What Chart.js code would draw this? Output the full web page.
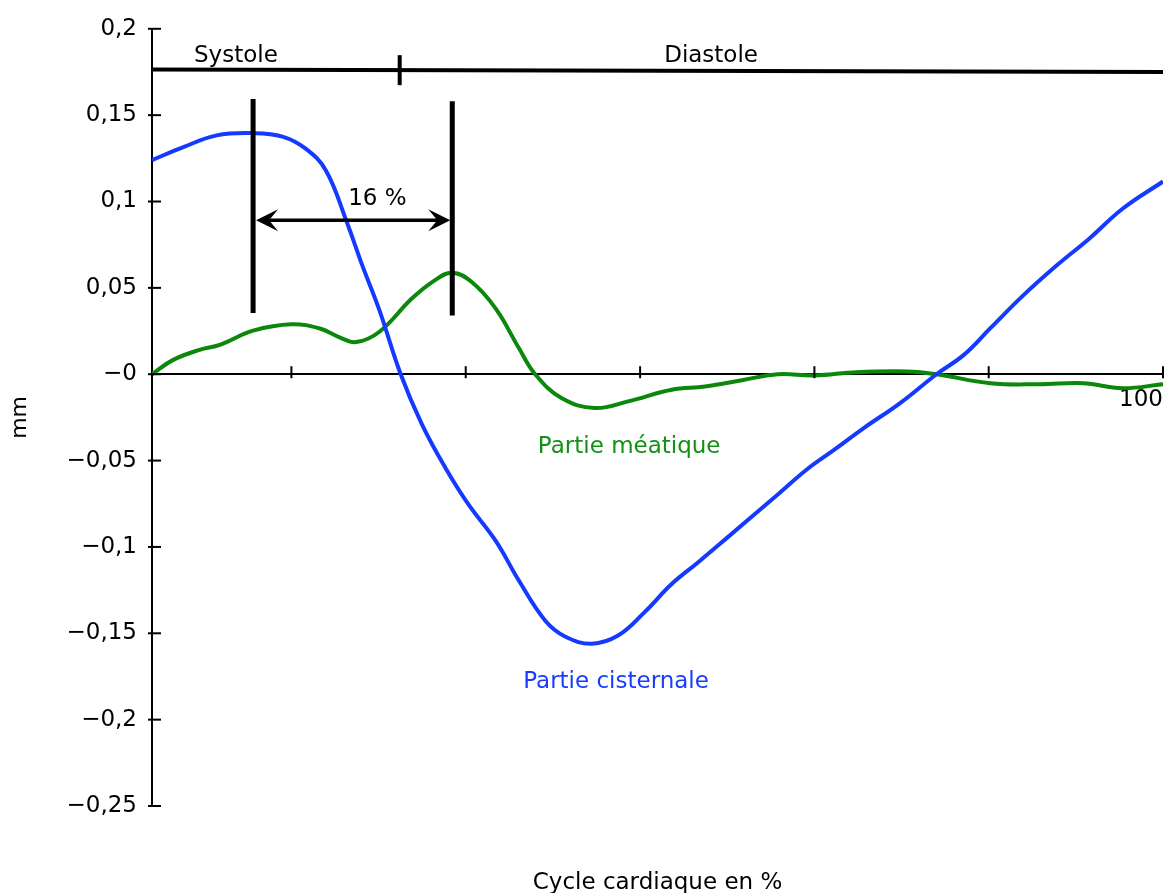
<!DOCTYPE html>
<html lang="fr">
<head>
<meta charset="utf-8">
<title>Cycle cardiaque</title>
<script src="https://cdn.jsdelivr.net/npm/chart.js"></script>
<style>
  html, body { margin: 0; padding: 0; background: #fff; }
  #wrap { width: 1175px; height: 893px; position: relative; }
</style>
</head>
<body>
<div id="wrap"><canvas id="cycleChart"></canvas></div>
<script>
// Partie cisternale (blue curve)
const cisternX = [0, 3.1, 6.4, 10.0, 12.9, 15.2, 17.2, 19.2, 20.8, 22.5, 24.6, 26.7, 29.0, 31.3, 34.0,
    36.3, 38.9, 40.9, 43.5, 46.1, 48.7, 51.4, 54.0, 56.9, 61.9, 64.8, 67.5, 70.4, 74.0,
    77.6, 80.3, 82.9, 86.2, 89.5, 92.7, 96.0, 100];
const cisternY = [0.124, 0.1315, 0.1383, 0.1396, 0.1376, 0.1306, 0.118, 0.0892, 0.063, 0.037, 0.0,
    -0.029, -0.054, -0.0754, -0.0965, -0.1196, -0.1427, -0.152, -0.156, -0.1513, -0.1379,
    -0.1215, -0.109, -0.0946, -0.0696, -0.055, -0.0437, -0.0312, -0.0167, 0.0, 0.0112,
    0.0265, 0.0458, 0.0631, 0.0785, 0.0958, 0.1116];

// Partie méatique (green curve)
const meatX = [0, 2.1, 4.7, 6.7, 10.0, 13.8, 16.6, 18.5, 20.2, 22.5, 25.7, 28.0, 29.7, 31.6, 34.0,
    36.3, 37.9, 40.5, 43.8, 47.1, 51.4, 54.7, 58.6, 61.9, 65.5, 69.7, 74.7, 77.6, 82.9,
    87.8, 92.1, 96.0, 100];
const meatY = [0.0, 0.0083, 0.0141, 0.017, 0.0252, 0.0289, 0.0265, 0.0215, 0.0186, 0.0246, 0.0438,
    0.0545, 0.0588, 0.0535, 0.038, 0.015, 0.0, -0.0138, -0.0196, -0.0157, -0.009, -0.0071,
    -0.0032, 0.0, -0.0007, 0.0012, 0.0016, 0.0, -0.0052, -0.0058, -0.0052, -0.0081, -0.0058];

// Axis ticks
const xTickValues = [13.79, 31.03, 48.28, 65.52, 82.76, 100];
const xTickLabels = ['', '', '', '', '', '100'];
const yTickValues = [-0.25, -0.2, -0.15, -0.1, -0.05, 0, 0.05, 0.1, 0.15, 0.2];
const yTickLabels = ['−0,25', '−0,2', '−0,15', '−0,1', '−0,05', '−0', '0,05', '0,1', '0,15', '0,2'];

// Phase bar (systole / diastole) and the 16 % markers, in data units
const phaseBarY = [0.1764, 0.1750];   // at x = 0 and x = 100
const systoleEnd = 24.5;
const markerX = [10.0, 29.7];
const markerTop = [0.1594, 0.158];
const markerBottom = [0.0354, 0.034];
const arrowY = 0.0892;

const colors = {
    cistern: '#1439ff',
    meat: '#0b870b',
    cisternText: '#1a3cff',
    meatText: '#149114',
    ink: '#000000'
};

const FONT = '"DejaVu Sans", "Liberation Sans", sans-serif';

function line(ctx, x1, y1, x2, y2) {
    ctx.beginPath();
    ctx.moveTo(x1, y1);
    ctx.lineTo(x2, y2);
    ctx.stroke();
}

// Arrow head with a notched back, tip at (x, y), pointing in dir (+1 right, -1 left)
function arrowHead(ctx, x, y, dir) {
    ctx.beginPath();
    ctx.moveTo(x, y);
    ctx.lineTo(x - dir * 22, y - 11);
    ctx.lineTo(x - dir * 13, y);
    ctx.lineTo(x - dir * 22, y + 11);
    ctx.closePath();
    ctx.fill();
}

const annotationPlugin = {
    id: 'annotations',
    afterDatasetsDraw(chart) {
        const { ctx, chartArea, scales: { x, y } } = chart;
        const px = v => x.getPixelForValue(v);
        const py = v => y.getPixelForValue(v);
        ctx.save();
        ctx.strokeStyle = colors.ink;
        ctx.fillStyle = colors.ink;

        // tick marks crossing the axes
        ctx.lineWidth = 2;
        const y0 = py(0);
        xTickValues.forEach(v => line(ctx, px(v), y0 - 8, px(v), y0 + 4));
        yTickValues.forEach(v => line(ctx, chartArea.left - 4, py(v), chartArea.left + 9, py(v)));

        // systole / diastole bar
        ctx.lineWidth = 4;
        line(ctx, px(0), py(phaseBarY[0]), px(100), py(phaseBarY[1]));
        const yb = phaseBarY[0] + (phaseBarY[1] - phaseBarY[0]) * systoleEnd / 100;
        line(ctx, px(systoleEnd), py(yb) - 15, px(systoleEnd), py(yb) + 15);

        // vertical markers
        ctx.lineWidth = 5;
        markerX.forEach((m, i) => line(ctx, px(m), py(markerTop[i]), px(m), py(markerBottom[i])));

        // double arrow
        const ax1 = px(markerX[0]) + 3, ax2 = px(markerX[1]) - 2, ay = py(arrowY);
        ctx.lineWidth = 3.5;
        line(ctx, ax1 + 10, ay, ax2 - 10, ay);
        arrowHead(ctx, ax1, ay, -1);
        arrowHead(ctx, ax2, ay, 1);

        // texts
        ctx.font = '23px ' + FONT;
        ctx.textAlign = 'center';
        ctx.textBaseline = 'alphabetic';
        ctx.fillText('Systole', px(8.3), py(0.181));
        ctx.fillText('Diastole', px(55.3), py(0.181));
        ctx.fillText('16 %', px(22.3), py(0.098));
        ctx.fillStyle = colors.meatText;
        ctx.fillText('Partie méatique', px(47.2), py(-0.0458));
        ctx.fillStyle = colors.cisternText;
        ctx.fillText('Partie cisternale', px(45.9), py(-0.1817));

        // x axis title, below the plot
        ctx.fillStyle = colors.ink;
        ctx.fillText('Cycle cardiaque en %', (chartArea.left + chartArea.right) / 2, 889);
        ctx.restore();
    }
};

function toPoints(xs, ys) {
    return xs.map((v, i) => ({ x: v, y: ys[i] }));
}

const chart = new Chart(document.getElementById('cycleChart'), {
    type: 'line',
    data: {
        datasets: [
            {
                label: 'Partie cisternale',
                data: toPoints(cisternX, cisternY),
                borderColor: colors.cistern,
                borderWidth: 4,
                pointRadius: 0,
                tension: 0.4,
                fill: false
            },
            {
                label: 'Partie méatique',
                data: toPoints(meatX, meatY),
                borderColor: colors.meat,
                borderWidth: 4,
                pointRadius: 0,
                tension: 0.4,
                fill: false
            }
        ]
    },
    options: {
        responsive: true,
        maintainAspectRatio: false,
        animation: false,
        layout: { padding: { top: 26, right: 8, bottom: 87, left: 0 } },
        plugins: {
            legend: { display: false },
            tooltip: { enabled: false }
        },
        scales: {
            x: {
                type: 'linear',
                min: 0,
                max: 100,
                position: { y: 0 },
                afterBuildTicks: s => { s.ticks = xTickValues.map(v => ({ value: v })); },
                grid: { display: false, drawTicks: false },
                border: { display: true, color: colors.ink, width: 2 },
                ticks: {
                    autoSkip: false,
                    maxRotation: 0,
                    align: 'end',
                    padding: 12,
                    color: colors.ink,
                    font: { family: FONT, size: 23 },
                    callback: (v, i) => xTickLabels[i]
                }
            },
            y: {
                type: 'linear',
                min: -0.25,
                max: 0.2,
                afterBuildTicks: s => { s.ticks = yTickValues.map(v => ({ value: v })); },
                afterFit: s => { s.width = 152; },
                grid: { display: false, drawTicks: false },
                border: { display: true, color: colors.ink, width: 2 },
                ticks: {
                    autoSkip: false,
                    padding: 15,
                    color: colors.ink,
                    font: { family: FONT, size: 23 },
                    callback: (v, i) => yTickLabels[i]
                },
                title: {
                    display: true,
                    text: 'mm',
                    color: colors.ink,
                    font: { family: FONT, size: 22 },
                    padding: { top: 7, bottom: 0 }
                }
            }
        }
    },
    plugins: [annotationPlugin]
});
</script>
</body>
</html>
